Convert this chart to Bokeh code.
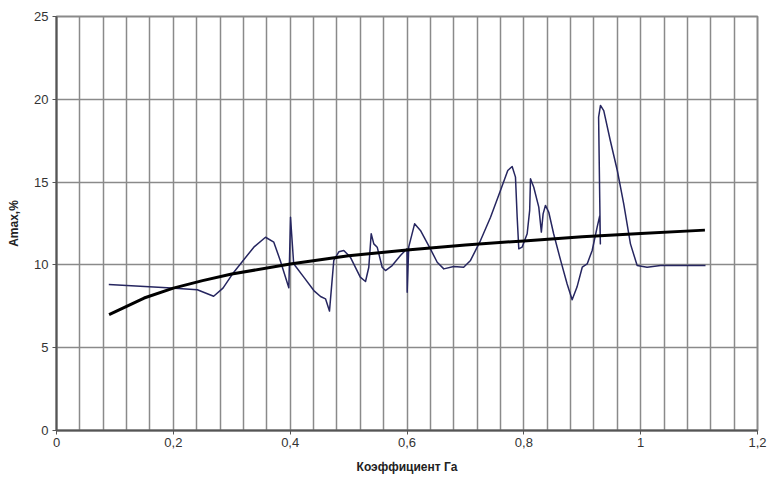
from bokeh.plotting import figure
from bokeh.models import FixedTicker, CustomJSTickFormatter, Range1d
from bokeh.embed import file_html
from bokeh.resources import INLINE

# Measured curve (thin navy line)
curve_x = [0.0895, 0.1895, 0.241, 0.269, 0.285, 0.3035, 0.3378, 0.3578, 0.372, 0.383, 0.3977,
           0.4006, 0.406, 0.4233, 0.4405, 0.452, 0.4605, 0.4673, 0.4747, 0.4833, 0.4918,
           0.503, 0.520, 0.529, 0.5346, 0.5387, 0.5432, 0.549, 0.5575, 0.5632, 0.5746,
           0.5888, 0.600, 0.6003, 0.603, 0.613, 0.623, 0.640, 0.6517, 0.663, 0.680,
           0.697, 0.7087, 0.7258, 0.743, 0.760, 0.7725, 0.780, 0.7857, 0.7886, 0.7914,
           0.797, 0.8057, 0.810, 0.8114, 0.817, 0.8256, 0.830, 0.833, 0.837, 0.8427,
           0.851, 0.863, 0.874, 0.8827, 0.891, 0.900, 0.9084, 0.917, 0.9255, 0.930,
           0.931, 0.928, 0.9312, 0.9368, 0.948, 0.960, 0.971, 0.9825, 0.994, 1.011,
           1.034, 1.111]
curve_y = [8.82, 8.62, 8.50, 8.11, 8.6, 9.56, 11.07, 11.67, 11.37, 10.27, 8.62,
           12.88, 10.07, 9.26, 8.45, 8.09, 7.95, 7.21, 10.27, 10.79, 10.87,
           10.47, 9.26, 9.00, 9.86, 11.88, 11.27, 11.07, 9.86, 9.66, 9.96,
           10.57, 10.97, 8.35, 11.09, 12.48, 12.08, 10.97, 10.16, 9.76, 9.90,
           9.86, 10.27, 11.47, 12.88, 14.49, 15.70, 15.94, 15.30, 12.88, 10.97,
           11.07, 11.88, 13.29, 15.20, 14.69, 13.49, 11.98, 13.08, 13.59, 13.18,
           11.88, 10.27, 8.86, 7.89, 8.66, 9.86, 10.06, 10.87, 12.28, 12.98,
           11.27, 18.92, 19.63, 19.32, 17.51, 15.70, 13.69, 11.27, 9.96, 9.86,
           9.96, 9.96]

# Trend line (thick black)
trend_x = [0.09, 0.12, 0.15, 0.2, 0.25, 0.3, 0.4, 0.5, 0.6, 0.7, 0.8, 0.9, 1.0, 1.11]
trend_y = [7.0, 7.5, 8.0, 8.6, 9.05, 9.45, 10.05, 10.55, 10.9, 11.2, 11.45, 11.7, 11.9, 12.1]

x_ticks = [0, 0.2, 0.4, 0.6, 0.8, 1.0, 1.2]
y_ticks = [0, 5, 10, 15, 20, 25]
x_title = "Коэффициент Гa"
y_title = "Amax,%"

p = figure(width=769, height=484, output_backend="svg", toolbar_location=None,
           x_range=Range1d(0, 1.2), y_range=Range1d(0, 25),
           min_border_left=56, min_border_right=12, min_border_top=16, min_border_bottom=54)
p.background_fill_color = "white"
p.border_fill_color = "white"
p.outline_line_color = "#8a8a8a"
p.outline_line_width = 2

p.xaxis.ticker = FixedTicker(ticks=x_ticks)
p.yaxis.ticker = FixedTicker(ticks=y_ticks)
p.xgrid.ticker = FixedTicker(ticks=[i * 0.04 for i in range(31)])
p.ygrid.ticker = FixedTicker(ticks=y_ticks)
for g in (p.xgrid, p.ygrid):
    g.grid_line_color = "#8a8a8a"
    g.grid_line_width = 1.5

p.xaxis.formatter = CustomJSTickFormatter(code="return String(Math.round(tick*10)/10).replace('.', ',');")

for ax in (p.xaxis, p.yaxis):
    ax.axis_line_color = "#555555"
    ax.axis_line_width = 2
    ax.major_tick_line_color = "#555555"
    ax.major_tick_out = 4
    ax.major_tick_in = 0
    ax.minor_tick_line_color = None
    ax.major_label_text_font = "Liberation Sans"
    ax.major_label_text_font_size = "13px"
    ax.major_label_text_color = "#333333"
    ax.axis_label_text_font = "Liberation Sans"
    ax.axis_label_text_font_style = "bold"
    ax.axis_label_text_font_size = "12px"
    ax.axis_label_text_color = "#222222"

p.xaxis.axis_label = x_title
p.yaxis.axis_label = y_title
p.xaxis.major_label_standoff = 3
p.xaxis.axis_label_standoff = 10
p.yaxis.major_label_standoff = 4
p.yaxis.axis_label_standoff = 10

p.line(curve_x, curve_y, line_color="#262660", line_width=1.5, line_join="round")
p.line(trend_x, trend_y, line_color="black", line_width=3, line_join="round")

open("out.html", "w").write(file_html(p, INLINE))
